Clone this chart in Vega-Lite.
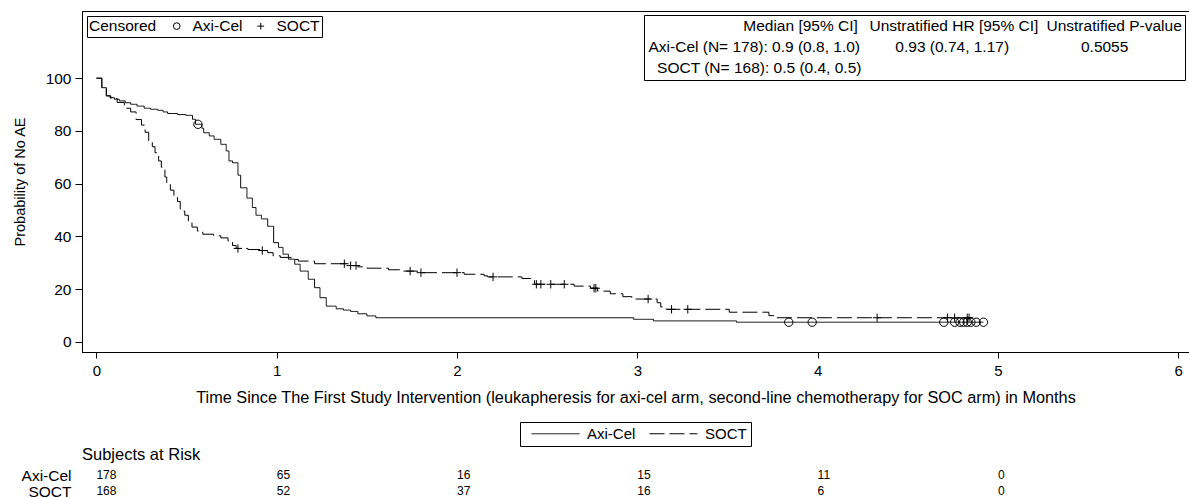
{
  "$schema": "https://vega.github.io/schema/vega-lite/v6.json",
  "autosize": {"type": "pad"},
  "padding": {"left": 11, "top": 10, "right": 0, "bottom": 0},
  "background": "white",
  "bounds": "flush",
  "spacing": 115,
  "resolve": {"scale": {"strokeDash": "independent", "shape": "independent", "color": "independent"}, "legend": {"strokeDash": "independent", "shape": "independent", "color": "independent"}},
  "config": {
    "font": "Liberation Sans",
    "view": {"stroke": "black", "strokeWidth": 1},
    "axis": {"labelColor": "black", "titleColor": "black", "domainColor": "black", "tickColor": "black", "labelFont": "Liberation Sans", "titleFont": "Liberation Sans", "titleFontWeight": "normal", "grid": false, "labelFontSize": 15.5, "titleFontSize": 16},
    "legend": {"labelFont": "Liberation Sans", "titleFont": "Liberation Sans", "labelColor": "black", "titleColor": "black", "titleFontWeight": "normal", "layout": {"bottom": {"anchor": "middle"}}},
    "title": {"font": "Liberation Sans", "fontWeight": "normal", "color": "black"}
  },
  "datasets": {
    "km": [
      {"arm": "Axi-Cel", "t": 0, "s": 100}, {"arm": "Axi-Cel", "t": 0.03, "s": 96.4}, {"arm": "Axi-Cel", "t": 0.055, "s": 93.3}, {"arm": "Axi-Cel", "t": 0.075, "s": 92.6}, {"arm": "Axi-Cel", "t": 0.1, "s": 92.0}, {"arm": "Axi-Cel", "t": 0.127, "s": 91.4}, {"arm": "Axi-Cel", "t": 0.16, "s": 90.7}, {"arm": "Axi-Cel", "t": 0.19, "s": 90.1}, {"arm": "Axi-Cel", "t": 0.225, "s": 89.4}, {"arm": "Axi-Cel", "t": 0.265, "s": 88.6}, {"arm": "Axi-Cel", "t": 0.3, "s": 88.2}, {"arm": "Axi-Cel", "t": 0.34, "s": 87.8}, {"arm": "Axi-Cel", "t": 0.37, "s": 87.2}, {"arm": "Axi-Cel", "t": 0.395, "s": 86.6}, {"arm": "Axi-Cel", "t": 0.45, "s": 86.2}, {"arm": "Axi-Cel", "t": 0.496, "s": 85.9}, {"arm": "Axi-Cel", "t": 0.533, "s": 84.4}, {"arm": "Axi-Cel", "t": 0.55, "s": 82.5}, {"arm": "Axi-Cel", "t": 0.585, "s": 81.0}, {"arm": "Axi-Cel", "t": 0.595, "s": 79.3}, {"arm": "Axi-Cel", "t": 0.626, "s": 78.1}, {"arm": "Axi-Cel", "t": 0.653, "s": 76.8}, {"arm": "Axi-Cel", "t": 0.69, "s": 74.9}, {"arm": "Axi-Cel", "t": 0.72, "s": 72.4}, {"arm": "Axi-Cel", "t": 0.735, "s": 68.6}, {"arm": "Axi-Cel", "t": 0.755, "s": 67.9}, {"arm": "Axi-Cel", "t": 0.785, "s": 63.2}, {"arm": "Axi-Cel", "t": 0.8, "s": 58.4}, {"arm": "Axi-Cel", "t": 0.835, "s": 54.5}, {"arm": "Axi-Cel", "t": 0.865, "s": 50.9}, {"arm": "Axi-Cel", "t": 0.885, "s": 48.0}, {"arm": "Axi-Cel", "t": 0.915, "s": 46.6}, {"arm": "Axi-Cel", "t": 0.95, "s": 43.8}, {"arm": "Axi-Cel", "t": 0.983, "s": 37.6}, {"arm": "Axi-Cel", "t": 1.01, "s": 35.8}, {"arm": "Axi-Cel", "t": 1.035, "s": 33.2}, {"arm": "Axi-Cel", "t": 1.065, "s": 31.3}, {"arm": "Axi-Cel", "t": 1.1, "s": 29.4}, {"arm": "Axi-Cel", "t": 1.13, "s": 26.8}, {"arm": "Axi-Cel", "t": 1.175, "s": 23.7}, {"arm": "Axi-Cel", "t": 1.21, "s": 20.5}, {"arm": "Axi-Cel", "t": 1.24, "s": 16.7}, {"arm": "Axi-Cel", "t": 1.275, "s": 13.5}, {"arm": "Axi-Cel", "t": 1.33, "s": 12.5}, {"arm": "Axi-Cel", "t": 1.37, "s": 12.0}, {"arm": "Axi-Cel", "t": 1.41, "s": 11.5}, {"arm": "Axi-Cel", "t": 1.45, "s": 10.6}, {"arm": "Axi-Cel", "t": 1.5, "s": 9.8}, {"arm": "Axi-Cel", "t": 1.55, "s": 9.1}, {"arm": "Axi-Cel", "t": 2.98, "s": 8.5}, {"arm": "Axi-Cel", "t": 3.09, "s": 7.9}, {"arm": "Axi-Cel", "t": 3.55, "s": 7.4}, {"arm": "Axi-Cel", "t": 4.92, "s": 7.4},
      {"arm": "SOCT", "t": 0, "s": 100}, {"arm": "SOCT", "t": 0.03, "s": 96.4}, {"arm": "SOCT", "t": 0.055, "s": 93.3}, {"arm": "SOCT", "t": 0.08, "s": 92.3}, {"arm": "SOCT", "t": 0.115, "s": 90.8}, {"arm": "SOCT", "t": 0.155, "s": 88.6}, {"arm": "SOCT", "t": 0.19, "s": 87.2}, {"arm": "SOCT", "t": 0.22, "s": 84.3}, {"arm": "SOCT", "t": 0.25, "s": 82.2}, {"arm": "SOCT", "t": 0.27, "s": 79.5}, {"arm": "SOCT", "t": 0.29, "s": 76.0}, {"arm": "SOCT", "t": 0.31, "s": 74.0}, {"arm": "SOCT", "t": 0.325, "s": 71.7}, {"arm": "SOCT", "t": 0.345, "s": 68.6}, {"arm": "SOCT", "t": 0.36, "s": 66.2}, {"arm": "SOCT", "t": 0.38, "s": 62.5}, {"arm": "SOCT", "t": 0.39, "s": 60.3}, {"arm": "SOCT", "t": 0.41, "s": 57.5}, {"arm": "SOCT", "t": 0.43, "s": 55.3}, {"arm": "SOCT", "t": 0.45, "s": 53.2}, {"arm": "SOCT", "t": 0.465, "s": 49.6}, {"arm": "SOCT", "t": 0.49, "s": 48.0}, {"arm": "SOCT", "t": 0.51, "s": 45.8}, {"arm": "SOCT", "t": 0.53, "s": 43.5}, {"arm": "SOCT", "t": 0.56, "s": 42.0}, {"arm": "SOCT", "t": 0.59, "s": 40.8}, {"arm": "SOCT", "t": 0.65, "s": 40.2}, {"arm": "SOCT", "t": 0.69, "s": 39.4}, {"arm": "SOCT", "t": 0.73, "s": 38.2}, {"arm": "SOCT", "t": 0.755, "s": 36.5}, {"arm": "SOCT", "t": 0.775, "s": 35.4}, {"arm": "SOCT", "t": 0.84, "s": 35.0}, {"arm": "SOCT", "t": 0.91, "s": 34.6}, {"arm": "SOCT", "t": 0.95, "s": 33.8}, {"arm": "SOCT", "t": 0.98, "s": 32.6}, {"arm": "SOCT", "t": 1.02, "s": 32.0}, {"arm": "SOCT", "t": 1.08, "s": 31.2}, {"arm": "SOCT", "t": 1.12, "s": 30.6}, {"arm": "SOCT", "t": 1.21, "s": 29.6}, {"arm": "SOCT", "t": 1.4, "s": 28.9}, {"arm": "SOCT", "t": 1.45, "s": 28.4}, {"arm": "SOCT", "t": 1.5, "s": 27.9}, {"arm": "SOCT", "t": 1.62, "s": 27.3}, {"arm": "SOCT", "t": 1.69, "s": 26.8}, {"arm": "SOCT", "t": 1.78, "s": 26.2}, {"arm": "SOCT", "t": 2.04, "s": 25.6}, {"arm": "SOCT", "t": 2.15, "s": 25.0}, {"arm": "SOCT", "t": 2.17, "s": 24.6}, {"arm": "SOCT", "t": 2.36, "s": 24.0}, {"arm": "SOCT", "t": 2.41, "s": 23.2}, {"arm": "SOCT", "t": 2.43, "s": 21.8}, {"arm": "SOCT", "t": 2.65, "s": 21.1}, {"arm": "SOCT", "t": 2.74, "s": 20.3}, {"arm": "SOCT", "t": 2.78, "s": 19.2}, {"arm": "SOCT", "t": 2.85, "s": 18.2}, {"arm": "SOCT", "t": 2.92, "s": 17.1}, {"arm": "SOCT", "t": 2.97, "s": 16.2}, {"arm": "SOCT", "t": 3.11, "s": 14.8}, {"arm": "SOCT", "t": 3.13, "s": 13.2}, {"arm": "SOCT", "t": 3.16, "s": 12.3}, {"arm": "SOCT", "t": 3.51, "s": 11.2}, {"arm": "SOCT", "t": 3.73, "s": 9.9}, {"arm": "SOCT", "t": 3.76, "s": 9.1}, {"arm": "SOCT", "t": 4.85, "s": 9.1}
    ],
    "censor": [
      {"group": "Axi-Cel", "t": 0.563, "s": 82.5}, {"group": "Axi-Cel", "t": 3.84, "s": 7.4}, {"group": "Axi-Cel", "t": 3.97, "s": 7.4}, {"group": "Axi-Cel", "t": 4.7, "s": 7.4}, {"group": "Axi-Cel", "t": 4.76, "s": 7.4}, {"group": "Axi-Cel", "t": 4.79, "s": 7.4}, {"group": "Axi-Cel", "t": 4.81, "s": 7.4}, {"group": "Axi-Cel", "t": 4.83, "s": 7.4}, {"group": "Axi-Cel", "t": 4.85, "s": 7.4}, {"group": "Axi-Cel", "t": 4.88, "s": 7.4}, {"group": "Axi-Cel", "t": 4.92, "s": 7.4},
      {"group": "SOCT", "t": 0.785, "s": 35.4}, {"group": "SOCT", "t": 0.92, "s": 34.6}, {"group": "SOCT", "t": 1.375, "s": 29.6}, {"group": "SOCT", "t": 1.41, "s": 28.9}, {"group": "SOCT", "t": 1.44, "s": 28.9}, {"group": "SOCT", "t": 1.74, "s": 26.8}, {"group": "SOCT", "t": 1.8, "s": 26.2}, {"group": "SOCT", "t": 2.0, "s": 26.2}, {"group": "SOCT", "t": 2.2, "s": 24.6}, {"group": "SOCT", "t": 2.44, "s": 21.8}, {"group": "SOCT", "t": 2.465, "s": 21.8}, {"group": "SOCT", "t": 2.52, "s": 21.8}, {"group": "SOCT", "t": 2.595, "s": 21.8}, {"group": "SOCT", "t": 2.76, "s": 20.3}, {"group": "SOCT", "t": 2.77, "s": 20.3}, {"group": "SOCT", "t": 3.06, "s": 16.2}, {"group": "SOCT", "t": 3.19, "s": 12.3}, {"group": "SOCT", "t": 3.28, "s": 12.3}, {"group": "SOCT", "t": 4.33, "s": 9.1}, {"group": "SOCT", "t": 4.72, "s": 9.1}, {"group": "SOCT", "t": 4.76, "s": 9.1}, {"group": "SOCT", "t": 4.83, "s": 9.1}, {"group": "SOCT", "t": 4.84, "s": 9.1}
    ],
    "stats": [
      {"cell": "\u200b\u00a0\u00a0\u00a0\u00a0\u00a0\u00a0\u00a0\u00a0\u00a0\u00a0\u00a0\u00a0\u00a0\u00a0\u00a0\u00a0\u00a0\u00a0\u00a0\u00a0\u00a0\u00a0Median [95% CI]"},
      {"cell": "Axi-Cel (N= 178): 0.9 (0.8, 1.0)"},
      {"cell": "\u200b\u00a0\u00a0SOCT (N= 168): 0.5 (0.4, 0.5)"},
      {"cell": "Unstratified HR [95% CI]"},
      {"cell": "\u200b\u00a0\u00a0\u00a0\u00a0\u00a0\u00a00.93 (0.74, 1.17)"},
      {"cell": "\u200b\u00a0\u200b"},
      {"cell": "Unstratified P-value"},
      {"cell": "\u200b\u00a0\u00a0\u00a0\u00a0\u00a0\u00a0\u00a0\u00a00.5055"},
      {"cell": "\u200b\u00a0\u00a0\u200b"}
    ],
    "risk": [
      {"arm": "Axi-Cel", "t": 0, "n": 178}, {"arm": "Axi-Cel", "t": 1, "n": 65}, {"arm": "Axi-Cel", "t": 2, "n": 16}, {"arm": "Axi-Cel", "t": 3, "n": 15}, {"arm": "Axi-Cel", "t": 4, "n": 11}, {"arm": "Axi-Cel", "t": 5, "n": 0},
      {"arm": "SOCT", "t": 0, "n": 168}, {"arm": "SOCT", "t": 1, "n": 52}, {"arm": "SOCT", "t": 2, "n": 37}, {"arm": "SOCT", "t": 3, "n": 16}, {"arm": "SOCT", "t": 4, "n": 6}, {"arm": "SOCT", "t": 5, "n": 0}
    ]
  },
  "vconcat": [
    {
      "width": 1107,
      "height": 341,
      "layer": [
        {
          "data": {"name": "km"},
          "mark": {"type": "line", "interpolate": "step-after", "color": "black", "strokeWidth": 1},
          "encoding": {
            "x": {"field": "t", "type": "quantitative", "scale": {"domain": [-0.08, 6.06], "nice": false, "zero": false},
                  "axis": {"values": [0, 1, 2, 3, 4, 5, 6], "format": "d", "title": "Time Since The First Study Intervention (leukapheresis for axi-cel arm, second-line chemotherapy for SOC arm) in Months", "tickSize": 6, "labelPadding": 5, "titlePadding": 11, "labelFontSize": 15, "titleFontSize": 16.3}},
            "y": {"field": "s", "type": "quantitative", "scale": {"domain": [-3.9, 125.5], "nice": false, "zero": false},
                  "axis": {"values": [0, 20, 40, 60, 80, 100], "title": "Probability of No AE", "tickSize": 7, "labelPadding": 4, "titlePadding": 18, "titleFontSize": 14.5}},
            "strokeDash": {"field": "arm", "type": "nominal", "scale": {"domain": ["Axi-Cel", "SOCT"], "range": [[1, 0], [15, 5]]},
                  "legend": {"title": null, "orient": "bottom", "direction": "horizontal", "symbolType": "M0,0H8", "symbolSize": 144, "symbolStrokeWidth": 1, "symbolStrokeColor": "black", "labelFontSize": 15, "labelOffset": 48, "strokeColor": "black", "padding": 4, "columnPadding": 6, "offset": 16}}
          }
        },
        {
          "data": {"name": "censor"},
          "mark": {"type": "point", "filled": false, "color": "black", "strokeWidth": 1, "size": 70, "opacity": 1},
          "encoding": {
            "x": {"field": "t", "type": "quantitative"},
            "y": {"field": "s", "type": "quantitative"},
            "shape": {"field": "group", "type": "nominal", "scale": {"domain": ["Axi-Cel", "SOCT"], "range": ["circle", "M-1,0H1M0,-1V1"]},
                  "legend": {"title": "Censored", "titleOrient": "left", "orient": "top-left", "direction": "horizontal", "symbolSize": 45, "symbolStrokeColor": "black", "symbolStrokeWidth": 1, "symbolFillColor": "transparent", "labelFontSize": 15.5, "titleFontSize": 15.5, "titlePadding": 12, "columnPadding": 10, "labelOffset": 8, "strokeColor": "black", "padding": 2, "offset": 5}}
          }
        },
        {
          "data": {"name": "stats"},
          "mark": {"type": "point", "opacity": 0},
          "encoding": {
            "x": {"datum": 0},
            "y": {"datum": 100},
            "color": {"field": "cell", "type": "nominal", "sort": null, "scale": {"range": ["black"]},
                  "legend": {"title": null, "orient": "top-right", "columns": 3, "columnPadding": 6, "rowPadding": 4, "symbolSize": 1, "symbolOpacity": 0, "symbolStrokeWidth": 0, "labelOffset": -14, "labelFontSize": 15.5, "labelLimit": 500, "strokeColor": "black", "padding": 3, "offset": 4}}
          }
        }
      ]
    },
    {
      "width": 1107,
      "height": 32,
      "view": {"stroke": null},
      "title": {"text": "Subjects at Risk", "anchor": "start", "fontSize": 16.5, "offset": 4, "frame": "group"},
      "data": {"name": "risk"},
      "mark": {"type": "text", "align": "left", "baseline": "middle", "fontSize": 12, "color": "black"},
      "encoding": {
        "x": {"field": "t", "type": "quantitative", "scale": {"domain": [-0.08, 6.06], "nice": false, "zero": false}, "axis": null},
        "y": {"field": "arm", "type": "nominal", "sort": ["Axi-Cel", "SOCT"], "axis": {"title": null, "domain": false, "ticks": false, "labelFontSize": 15.5, "labelPadding": 11}},
        "text": {"field": "n", "type": "quantitative"}
      }
    }
  ]
}
